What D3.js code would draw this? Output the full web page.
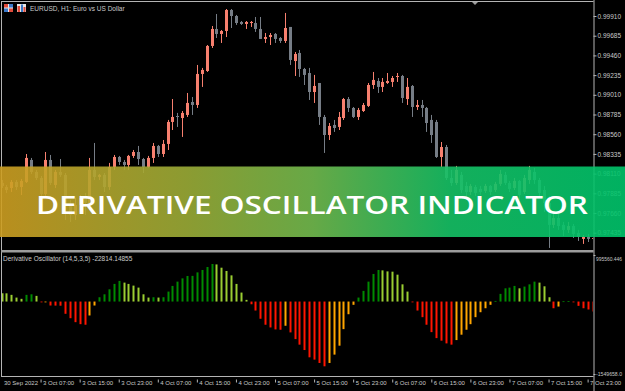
<!DOCTYPE html>
<html>
<head>
<meta charset="utf-8">
<script src="https://cdn.jsdelivr.net/npm/d3@7"></script>
<style>
  html, body { margin: 0; padding: 0; background: #000; }
  svg { display: block; }
</style>
</head>
<body>
<script>
// EURUSD H1 candles: [open, high, low, close]
const candles = [
  [0.98003, 0.98037, 0.97946, 0.97969], [0.97957, 0.97980, 0.97889, 0.97923],
  [0.97946, 0.98037, 0.97900, 0.98015], [0.98015, 0.98037, 0.97923, 0.97957],
  [0.97957, 0.98049, 0.97866, 0.98026], [0.98015, 0.98334, 0.98003, 0.98289],
  [0.98266, 0.98289, 0.98106, 0.98129], [0.98129, 0.98152, 0.98037, 0.98060],
  [0.98060, 0.98083, 0.97832, 0.97878], [0.97878, 0.98357, 0.97855, 0.98266],
  [0.98266, 0.98323, 0.97980, 0.98003], [0.97980, 0.98152, 0.97946, 0.98129],
  [0.98129, 0.98277, 0.98072, 0.98095], [0.98095, 0.98117, 0.97581, 0.97741],
  [0.97741, 0.97809, 0.97558, 0.97638], [0.97638, 0.97832, 0.97581, 0.97752],
  [0.97752, 0.97866, 0.97695, 0.97832], [0.97832, 0.97889, 0.97638, 0.97775],
  [0.97775, 0.98289, 0.97752, 0.98152], [0.98152, 0.98460, 0.98037, 0.98072],
  [0.98072, 0.98106, 0.98037, 0.98095], [0.98095, 0.98117, 0.97900, 0.97957],
  [0.97957, 0.98232, 0.97923, 0.98186], [0.98186, 0.98323, 0.98152, 0.98300],
  [0.98300, 0.98312, 0.98209, 0.98243], [0.98243, 0.98266, 0.98152, 0.98209],
  [0.98209, 0.98323, 0.98152, 0.98312], [0.98312, 0.98380, 0.98289, 0.98357],
  [0.98357, 0.98426, 0.98209, 0.98277], [0.98277, 0.98289, 0.98117, 0.98186],
  [0.98186, 0.98312, 0.98175, 0.98289], [0.98289, 0.98460, 0.98232, 0.98426],
  [0.98426, 0.98437, 0.98300, 0.98334], [0.98334, 0.98494, 0.98300, 0.98449],
  [0.98449, 0.98723, 0.98380, 0.98700], [0.98700, 0.98962, 0.98608, 0.98757],
  [0.98768, 0.98803, 0.98643, 0.98757], [0.98745, 0.98825, 0.98529, 0.98803],
  [0.98780, 0.99031, 0.98757, 0.98917], [0.98928, 0.98985, 0.98780, 0.98894],
  [0.98894, 0.99351, 0.98860, 0.99248], [0.99248, 0.99317, 0.99100, 0.99294],
  [0.99282, 0.99579, 0.99271, 0.99568], [0.99568, 0.99796, 0.99545, 0.99762],
  [0.99762, 0.99933, 0.99659, 0.99705], [0.99705, 0.99750, 0.99602, 0.99739],
  [0.99739, 0.99990, 0.99670, 0.99979], [0.99979, 0.99990, 0.99773, 0.99910],
  [0.99910, 0.99922, 0.99808, 0.99830], [0.99842, 0.99853, 0.99808, 0.99819],
  [0.99819, 0.99853, 0.99762, 0.99842], [0.99830, 0.99853, 0.99785, 0.99842],
  [0.99830, 0.99899, 0.99728, 0.99762], [0.99762, 0.99899, 0.99648, 0.99648],
  [0.99648, 0.99716, 0.99602, 0.99670], [0.99670, 0.99716, 0.99579, 0.99693],
  [0.99705, 0.99716, 0.99602, 0.99648], [0.99659, 0.99670, 0.99602, 0.99625],
  [0.99625, 0.99945, 0.99602, 0.99773], [0.99785, 0.99785, 0.99351, 0.99408],
  [0.99396, 0.99499, 0.99225, 0.99476], [0.99488, 0.99522, 0.99214, 0.99305],
  [0.99305, 0.99317, 0.99122, 0.99237], [0.99259, 0.99317, 0.98951, 0.99042],
  [0.99042, 0.99237, 0.98917, 0.99111], [0.99145, 0.99145, 0.98666, 0.98757],
  [0.98757, 0.98780, 0.98346, 0.98551], [0.98551, 0.98688, 0.98494, 0.98654],
  [0.98666, 0.98723, 0.98586, 0.98631], [0.98643, 0.98814, 0.98608, 0.98757],
  [0.98745, 0.98974, 0.98723, 0.98962], [0.98962, 0.98985, 0.98814, 0.98860],
  [0.98860, 0.98871, 0.98745, 0.98757], [0.98757, 0.98860, 0.98723, 0.98837],
  [0.98825, 0.98917, 0.98814, 0.98894], [0.98883, 0.99145, 0.98871, 0.99122],
  [0.99122, 0.99271, 0.99077, 0.99180], [0.99168, 0.99202, 0.99031, 0.99100],
  [0.99100, 0.99202, 0.99042, 0.99157], [0.99145, 0.99259, 0.99134, 0.99168],
  [0.99157, 0.99225, 0.99100, 0.99202], [0.99214, 0.99259, 0.99157, 0.99225],
  [0.99225, 0.99237, 0.98917, 0.98974], [0.98962, 0.99202, 0.98894, 0.99100],
  [0.99111, 0.99122, 0.98757, 0.98871], [0.98871, 0.98951, 0.98837, 0.98894],
  [0.98894, 0.98951, 0.98757, 0.98860], [0.98860, 0.98871, 0.98586, 0.98688],
  [0.98723, 0.98780, 0.98460, 0.98551], [0.98700, 0.98723, 0.98289, 0.98300],
  [0.98300, 0.98471, 0.98186, 0.98414], [0.98414, 0.98437, 0.98037, 0.98060],
  [0.98060, 0.98152, 0.97969, 0.98003], [0.98003, 0.98198, 0.97980, 0.98152],
  [0.98095, 0.98129, 0.97889, 0.97923], [0.97969, 0.98015, 0.97809, 0.97900],
  [0.97900, 0.97992, 0.97866, 0.97969], [0.97957, 0.97980, 0.97855, 0.97889],
  [0.97935, 0.97969, 0.97866, 0.97900], [0.97912, 0.97992, 0.97889, 0.97969],
  [0.97969, 0.97980, 0.97866, 0.97900], [0.97923, 0.98015, 0.97900, 0.97992],
  [0.97992, 0.98152, 0.97969, 0.98106], [0.98095, 0.98129, 0.97980, 0.98003],
  [0.98003, 0.98026, 0.97900, 0.97935], [0.97946, 0.98060, 0.97923, 0.98026],
  [0.98026, 0.98037, 0.97809, 0.97866], [0.97900, 0.98095, 0.97878, 0.98060],
  [0.98037, 0.98198, 0.97992, 0.98152], [0.98129, 0.98175, 0.97992, 0.98037],
  [0.98037, 0.98060, 0.97832, 0.97889], [0.97923, 0.97969, 0.97672, 0.97775],
  [0.97775, 0.97855, 0.97261, 0.97524], [0.97524, 0.97672, 0.97489, 0.97603],
  [0.97603, 0.97649, 0.97467, 0.97512], [0.97524, 0.97558, 0.97398, 0.97467],
  [0.97467, 0.97558, 0.97432, 0.97512], [0.97512, 0.97535, 0.97375, 0.97421],
  [0.97432, 0.97467, 0.97341, 0.97387], [0.97364, 0.97409, 0.97307, 0.97387],
  [0.97387, 0.97421, 0.97329, 0.97364], [0.97364, 0.97398, 0.97352, 0.97375]
];

// Derivative Oscillator histogram, one value per bar
const oscValues = [
  177000, 176000, 143000, 85000, 58000, 143000, 155000, 121000, -15000, -10000,
  -85000, -87000, -89000, -262000, -356000, -441000, -484000, -496000, -298000, -85000,
  92000, 155000, 262000, 377000, 441000, 405000, 377000, 341000, 298000, 155000,
  85000, 92000, 85000, 92000, 213000, 334000, 426000, 496000, 547000, 549000,
  624000, 675000, 739000, 803000, 794000, 724000, 654000, 560000, 377000, 192000,
  36000, -58000, -192000, -368000, -496000, -554000, -596000, -603000, -518000, -660000,
  -803000, -922000, -1037000, -1193000, -1242000, -1314000, -1385000, -1314000, -1135000, -944000,
  -590000, -271000, -70000, 85000, 228000, 426000, 590000, 675000, 667000, 645000,
  639000, 575000, 368000, 213000, -9000, -192000, -334000, -496000, -654000, -782000,
  -837000, -895000, -922000, -824000, -709000, -603000, -484000, -334000, -228000, -143000,
  -70000, 13000, 164000, 283000, 298000, 334000, 283000, 320000, 368000, 426000,
  405000, 326000, 92000, -143000, -107000, 6000, 11000, -6000, -92000, -143000,
  -170000, -213000
];

const priceTicks = [0.99910, 0.99685, 0.99460, 0.99235, 0.99010, 0.98785,
                    0.98560, 0.98335, 0.98110, 0.97885, 0.97660, 0.97435];
const priceRange = [0.97249, 1.00070];

const oscRange = [-1549658.0496, 995560.4464];
const oscRangeLabels = ['-1549658.0', '995560.446'];

const timeTickBars = [0, 8, 16, 24, 32, 40, 48, 56, 64, 72, 80, 88, 96, 104, 112, 120];
const timeTickLabels = ['30 Sep 2022', '3 Oct 07:00', '3 Oct 15:00', '3 Oct 23:00',
  '4 Oct 07:00', '4 Oct 15:00', '4 Oct 23:00', '5 Oct 07:00', '5 Oct 15:00',
  '5 Oct 23:00', '6 Oct 07:00', '6 Oct 15:00', '6 Oct 23:00', '7 Oct 07:00',
  '7 Oct 15:00', '7 Oct 23:00'];

const chartTitle = 'EURUSD, H1:  Euro vs US Dollar';
const oscTitle = 'Derivative Oscillator (14,5,3,5) -22814.14855';
const bannerText = 'DERIVATIVE OSCILLATOR INDICATOR';

(function() {
  const W = 625, H = 391;
  const axisX = 593.5;
  const font = '"Liberation Sans", Arial, sans-serif';
  const textColor = '#c8c8c8';
  const frameColor = '#b4b4b4';

  const svg = d3.select('body').append('svg')
    .attr('width', W)
    .attr('height', H)
    .style('background', '#000');

  const defs = svg.append('defs');
  defs.append('clipPath').attr('id', 'clip-main')
    .append('rect').attr('x', 2).attr('y', 2).attr('width', 591).attr('height', 248);
  defs.append('clipPath').attr('id', 'clip-osc')
    .append('rect').attr('x', 2).attr('y', 253).attr('width', 591).attr('height', 123);

  const grad = defs.append('linearGradient').attr('id', 'banner-grad')
    .attr('x1', '0%').attr('x2', '100%').attr('y1', '0%').attr('y2', '0%');
  [['0%', '#cd9e21'], ['30%', '#9bac37'], ['50%', '#72bb4e'], ['72%', '#16c266'], ['100%', '#00c46b']]
    .forEach(function(s) { grad.append('stop').attr('offset', s[0]).attr('stop-color', s[1]); });

  // Scales
  const x = d3.scaleLinear().domain([0, oscValues.length - 1]).range([1.5, 592.5]);
  const yPrice = d3.scaleLinear().domain(priceRange).range([249, 2]);
  const yOsc = d3.scaleLinear().domain(oscRange).range([374, 255]);

  // Candles
  const gMain = svg.append('g').attr('clip-path', 'url(#clip-main)');
  const bull = '#f7806f', bear = '#767d86';
  candles.forEach(function(c, i) {
    const cx = Math.round(x(i)) + 0.5;
    const col = c[3] >= c[0] ? bull : bear;
    gMain.append('line')
      .attr('x1', cx).attr('x2', cx)
      .attr('y1', yPrice(c[1])).attr('y2', yPrice(c[2]))
      .attr('stroke', col).attr('stroke-width', 1);
    const top = yPrice(Math.max(c[0], c[3]));
    const bot = yPrice(Math.min(c[0], c[3]));
    gMain.append('rect')
      .attr('x', cx - 1.5).attr('width', 3)
      .attr('y', top).attr('height', Math.max(1, bot - top))
      .attr('fill', col);
  });

  // Oscillator histogram
  const gOsc = svg.append('g').attr('clip-path', 'url(#clip-osc)');
  gOsc.selectAll('.osc-bar')
    .data(oscValues)
    .enter()
    .append('rect')
    .attr('class', 'osc-bar')
    .attr('x', function(d, i) { return Math.round(x(i)) - 0.5; })
    .attr('width', 2)
    .attr('y', function(d) { return Math.min(yOsc(0), yOsc(d)); })
    .attr('height', function(d) { return Math.max(0.8, Math.abs(yOsc(d) - yOsc(0))); })
    .attr('fill', function(d, i) {
      const up = i > 0 && d > oscValues[i - 1];
      if (d >= 0) return up ? '#008a00' : '#9acd32';
      return up ? '#ffa500' : '#ff1500';
    });

  // Frames
  const frame = svg.append('g').attr('stroke', frameColor).attr('fill', 'none');
  frame.append('line').attr('x1', 1).attr('x2', axisX).attr('y1', 1.5).attr('y2', 1.5);
  frame.append('line').attr('x1', 1.5).attr('x2', 1.5).attr('y1', 1).attr('y2', 377);
  frame.append('line').attr('x1', 1).attr('x2', axisX).attr('y1', 376.5).attr('y2', 376.5);
  svg.append('rect').attr('x', 1).attr('y', 250).attr('width', axisX - 1).attr('height', 2.5)
    .attr('fill', '#9c9c9c');

  // chart shift marker
  svg.append('path').attr('d', 'M472,2 L478,2 L475,5 Z').attr('fill', '#9c9c9c');

  function styleAxis(g) {
    g.select('.domain').attr('stroke', frameColor);
    g.selectAll('.tick line').attr('stroke', frameColor);
    g.selectAll('.tick text').attr('fill', textColor)
      .style('font-family', font).style('font-size', '6.5px');
  }

  // Price axis
  svg.append('g')
    .attr('transform', 'translate(' + axisX + ',0)')
    .call(d3.axisRight(yPrice).tickValues(priceTicks).tickSize(3).tickPadding(1)
      .tickFormat(d3.format('.5f')).tickSizeOuter(0))
    .call(styleAxis)
    .call(function(g) { g.select('.domain').attr('d', 'M0.5,0V' + H); });

  // Oscillator axis (min/max labels)
  svg.append('g')
    .attr('transform', 'translate(' + axisX + ',0)')
    .call(d3.axisRight(yOsc).tickValues(oscRange).tickSize(2).tickPadding(0.5)
      .tickFormat(function(d, i) { return oscRangeLabels[i]; }))
    .call(styleAxis)
    .call(function(g) {
      g.select('.domain').remove();
      g.selectAll('.tick text').style('font-size', '5.6px')
        .attr('textLength', 26).attr('lengthAdjust', 'spacingAndGlyphs')
        .attr('dy', function(d, i) { return i === 1 ? '0.9em' : '0.32em'; });
    });

  // Time axis
  svg.append('g')
    .attr('transform', 'translate(0,376.5)')
    .call(d3.axisBottom(x).tickValues(timeTickBars).tickSize(6).tickSizeOuter(0)
      .tickFormat(function(d, i) { return timeTickLabels[i]; }))
    .call(styleAxis)
    .call(function(g) {
      g.select('.domain').remove();
      g.selectAll('.tick text').style('font-size', '6px')
        .attr('text-anchor', 'start').attr('x', 2).attr('y', 4.5).attr('dy', '0.71em');
      g.selectAll('.tick line').attr('y1', 3)
        .attr('stroke-opacity', function(d, i) { return i === 0 ? 0 : 1; });
    });

  // Titles
  const icons = svg.append('g');
  icons.append('rect').attr('x', 4).attr('y', 4).attr('width', 9).attr('height', 8).attr('fill', '#e8e8e8');
  icons.append('rect').attr('x', 4).attr('y', 4).attr('width', 4).attr('height', 3.5).attr('fill', '#e04a3a');
  icons.append('rect').attr('x', 9).attr('y', 4).attr('width', 4).attr('height', 3.5).attr('fill', '#3a78c8');
  icons.append('rect').attr('x', 4).attr('y', 8.5).attr('width', 4).attr('height', 3.5).attr('fill', '#3a78c8');
  icons.append('rect').attr('x', 9).attr('y', 8.5).attr('width', 4).attr('height', 3.5).attr('fill', '#e04a3a');
  icons.append('rect').attr('x', 17).attr('y', 4).attr('width', 9).attr('height', 8).attr('fill', '#e8e8e8');
  icons.append('rect').attr('x', 17.5).attr('y', 6).attr('width', 2.5).attr('height', 6).attr('fill', '#e04a3a');
  icons.append('rect').attr('x', 21).attr('y', 4.5).attr('width', 2).attr('height', 7.5).attr('fill', '#3a78c8');
  icons.append('rect').attr('x', 23.5).attr('y', 7).attr('width', 2).attr('height', 5).attr('fill', '#e04a3a');

  svg.append('text')
    .attr('x', 30).attr('y', 10.5)
    .attr('fill', textColor)
    .style('font-family', font).style('font-size', '6.5px')
    .text(chartTitle);

  svg.append('text')
    .attr('x', 3).attr('y', 261)
    .attr('fill', textColor)
    .style('font-family', font).style('font-size', '6.5px')
    .text(oscTitle);

  // Banner
  svg.append('rect')
    .attr('x', 0).attr('y', 166.5).attr('width', W).attr('height', 70.5)
    .attr('fill', 'url(#banner-grad)')
    .attr('fill-opacity', 0.9);

  svg.append('text')
    .attr('x', 36).attr('y', 213.5)
    .attr('fill', '#ffffff')
    .attr('textLength', 552)
    .attr('lengthAdjust', 'spacingAndGlyphs')
    .style('font-family', '"Open Sans", Lato, sans-serif')
    .style('font-weight', 600)
    .style('font-size', '25.5px')
    .text(bannerText);
})();
</script>
</body>
</html>
